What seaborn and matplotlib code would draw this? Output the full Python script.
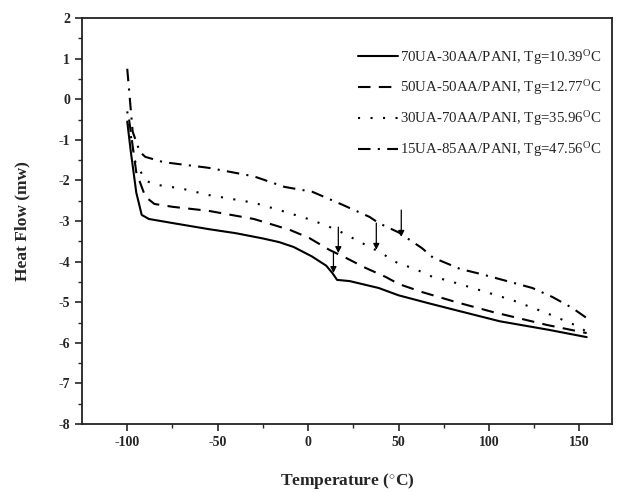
import numpy as np
import pandas as pd
import matplotlib
matplotlib.use("Agg")
import matplotlib.pyplot as plt
import seaborn as sns

# ---- data ----
t_solid = [-100, -98, -95, -92, -88, -75, -55, -40, -25, -16, -8, 2, 10, 13.4, 16, 23, 39, 50, 67, 82, 106, 133, 154]
v_solid = [-0.55, -1.3, -2.3, -2.85, -2.95, -3.05, -3.2, -3.3, -3.43, -3.52, -3.64, -3.87, -4.1, -4.28, -4.45, -4.48, -4.65, -4.83, -5.03, -5.2, -5.47, -5.68, -5.86]

t_dash = [-99, -95, -90, -85, -75, -55, -30, -10, 0.7, 11.7, 21, 32, 43, 50, 63, 82, 102, 132, 154]
v_dash = [-0.5, -1.8, -2.4, -2.58, -2.65, -2.75, -2.95, -3.22, -3.42, -3.71, -3.91, -4.16, -4.38, -4.55, -4.75, -5.0, -5.24, -5.56, -5.76]

t_dot = [-100, -96, -90, -85, -70, -55, -30, -16, 2.3, 16, 34, 39.4, 50, 58, 69, 76, 91, 113, 132, 150, 154]
v_dot = [-0.3, -1.5, -2.0, -2.1, -2.2, -2.36, -2.55, -2.73, -2.98, -3.22, -3.64, -3.76, -4.05, -4.16, -4.38, -4.45, -4.65, -4.95, -5.27, -5.61, -5.73]

t_dd = [-100, -97, -93, -90, -80, -55, -30, -13, 2.3, 19, 34, 39, 50, 63, 69, 84, 95, 110, 124, 135, 146, 154]
v_dd = [0.75, -0.8, -1.3, -1.42, -1.55, -1.69, -1.9, -2.16, -2.28, -2.6, -2.9, -3.05, -3.28, -3.67, -3.9, -4.18, -4.3, -4.48, -4.65, -4.87, -5.14, -5.39]

labels = [r"70UA-30AA/PANI, Tg=10.39$^{\mathrm{O}}$C",
          r"50UA-50AA/PANI, Tg=12.77$^{\mathrm{O}}$C",
          r"30UA-70AA/PANI, Tg=35.96$^{\mathrm{O}}$C",
          r"15UA-85AA/PANI, Tg=47.56$^{\mathrm{O}}$C"]

arrow_x = [14.0, 16.7, 37.7, 51.5]
arrow_top = [-3.79, -3.15, -3.05, -2.73]
arrow_tip = [-4.28, -3.79, -3.71, -3.39]

x_ticks = [-100, -50, 0, 50, 100, 150]
y_ticks = [-8, -7, -6, -5, -4, -3, -2, -1, 0, 1, 2]

# ---- style ----
sns.set_style("ticks")
plt.rcParams["font.family"] = ["Liberation Serif", "DejaVu Serif"]
plt.rcParams["mathtext.fontset"] = "custom"
plt.rcParams["mathtext.rm"] = "Liberation Serif"
plt.rcParams["mathtext.it"] = "Liberation Serif:italic"
plt.rcParams["mathtext.bf"] = "Liberation Serif:bold"
plt.rcParams["axes.unicode_minus"] = False

fig = plt.figure(figsize=(6.28, 4.92), dpi=100)
ax = fig.add_axes([0.1306, 0.1382, 0.9745 - 0.1306, 0.9634 - 0.1382])

series = [(t_solid, v_solid, "-"),
          (t_dash, v_dash, (0, (6, 4))),
          (t_dot, v_dot, (0, (1, 5))),
          (t_dd, v_dd, (0, (6, 3.5, 1, 3.5)))]

for (t, v, ls), lab in zip(series, labels):
    df = pd.DataFrame({"T": t, "HF": v})
    sns.lineplot(data=df, x="T", y="HF", ax=ax, color="black", lw=1.5,
                 linestyle=ls, label=lab, sort=False)

for x, y0, y1 in zip(arrow_x, arrow_top, arrow_tip):
    ax.annotate("", xy=(x, y1), xytext=(x, y0),
                arrowprops=dict(arrowstyle="-|>", lw=0.9, color="black",
                                mutation_scale=9, shrinkA=0, shrinkB=0))

ax.set_xlim(-125, 168)
ax.set_ylim(-8, 2)
ax.set_xticks(x_ticks)
ax.set_yticks(y_ticks)
ax.set_xticks([-75, -25, 25, 75, 125], minor=True)
ax.set_yticks(np.arange(-7.5, 2, 1.0), minor=True)
ax.tick_params(axis="both", which="major", direction="out", length=5, width=1.2,
               labelsize=10, top=False, right=False)
ax.tick_params(axis="both", which="minor", direction="out", length=3, width=1.0,
               top=False, right=False)
for lbl in ax.get_xticklabels() + ax.get_yticklabels():
    lbl.set_fontweight("bold")
for sp in ax.spines.values():
    sp.set_visible(True)
    sp.set_linewidth(1.3)
    sp.set_color("#222222")

ax.set_xlabel("Temperature ($^{\\circ}$C)", fontsize=12.5, fontweight="bold", labelpad=16)
ax.set_ylabel("Heat Flow (mw)", fontsize=12.5, fontweight="bold", labelpad=20)

leg = ax.legend(loc="upper right", frameon=False, fontsize=10.7, handlelength=2.7,
                handletextpad=0.1, labelspacing=0.8, bbox_to_anchor=(1.005, 0.96))

fig.savefig("out.png", dpi=100)
